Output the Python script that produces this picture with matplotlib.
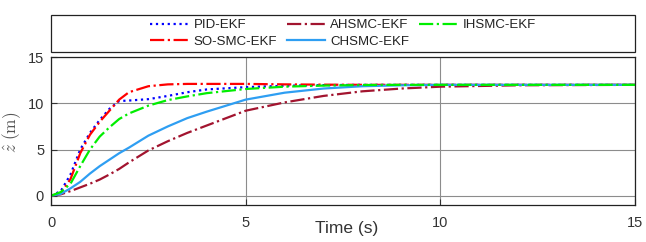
import matplotlib
matplotlib.use('Agg')
import matplotlib.pyplot as plt
from matplotlib.patches import Rectangle

plt.rcParams['font.family'] = ['Liberation Sans', 'DejaVu Sans']
plt.rcParams['mathtext.fontset'] = 'cm'

# tempo (s) e respostas
tempo = [0, 0.25, 0.5, 0.75, 1.0, 1.25, 1.5, 1.75, 2.0, 2.5, 3, 3.5, 4, 5, 6, 7, 8, 9, 10, 12, 15]
pid_ekf = [0, 0.5, 2.3, 5.0, 6.8, 8.2, 9.4, 10.25, 10.3, 10.45, 10.8, 11.2, 11.5, 11.75, 11.9, 11.97, 12, 12, 12, 12, 12]
so_smc_ekf = [0, 0.3, 1.8, 4.6, 6.6, 8.0, 9.2, 10.4, 11.2, 11.85, 12.05, 12.1, 12.1, 12.1, 12.05, 12.02, 12, 12, 12, 12, 12]
ahsmc_ekf = [0, 0.15, 0.5, 0.9, 1.3, 1.75, 2.3, 2.9, 3.6, 4.9, 5.9, 6.8, 7.6, 9.2, 10.1, 10.8, 11.3, 11.6, 11.8, 11.95, 12]
chsmc_ekf = [0, 0.2, 0.8, 1.5, 2.4, 3.2, 3.9, 4.6, 5.2, 6.5, 7.5, 8.4, 9.1, 10.4, 11.15, 11.6, 11.85, 11.95, 12, 12, 12]
ihsmc_ekf = [0, 0.4, 1.3, 3.2, 5.0, 6.4, 7.4, 8.3, 8.9, 9.75, 10.35, 10.75, 11.1, 11.55, 11.8, 11.92, 11.98, 12, 12, 12, 12]

ticks = [0, 5, 10, 15]

fig = plt.figure(figsize=(6.46, 2.42), dpi=100)
ax = fig.add_axes([0.079, 0.153, 0.904, 0.611])

l_pid, = ax.plot(tempo, pid_ekf, ':', color='#0000ff', lw=1.6, label='PID-EKF')
l_so, = ax.plot(tempo, so_smc_ekf, '-.', color='#ff0000', lw=1.6, label='SO-SMC-EKF')
l_ah, = ax.plot(tempo, ahsmc_ekf, '-.', color='#a2142f', lw=1.6, label='AHSMC-EKF')
l_ch, = ax.plot(tempo, chsmc_ekf, '-', color='#2e9ef2', lw=1.6, label='CHSMC-EKF')
l_ih, = ax.plot(tempo, ihsmc_ekf, '-.', color='#00ee00', lw=1.6, label='IHSMC-EKF')

ax.set_xlim(0, 15)
ax.set_ylim(-1, 15)
ax.set_xticks(ticks)
ax.set_yticks(ticks)
ax.grid(True, color='#8c8c8c', lw=0.8)
ax.tick_params(direction='in', labelsize=10.5, colors='#333333', length=4)
ax.tick_params(axis='x', pad=8)
ax.tick_params(axis='y', pad=5)
for s in ax.spines.values():
    s.set_linewidth(0.9)
    s.set_color('#222222')

ax.set_xlabel('Time (s)', fontsize=12.5, color='#333333')
ax.xaxis.label.set_va('center')
ax.xaxis.set_label_coords(0.507, -0.162)
ax.set_ylabel(r'$\hat{z}\ (\mathrm{m})$', fontsize=12.5, color='#555555')
ax.yaxis.label.set_va('center')
ax.yaxis.set_label_coords(-0.067, 0.49)

# caixa da legenda ocupando toda a largura
fig.patches.append(Rectangle((0.079, 0.785), 0.904, 0.153, transform=fig.transFigure,
                             fill=False, edgecolor='#222222', lw=0.9))
fig.legend([l_pid, l_so, l_ah, l_ch, l_ih],
           ['PID-EKF', 'SO-SMC-EKF', 'AHSMC-EKF', 'CHSMC-EKF', 'IHSMC-EKF'],
           ncol=3, loc='center', bbox_to_anchor=(0.531, 0.8615), frameon=False,
           fontsize=9.5, handlelength=2.9, handletextpad=0.4, columnspacing=0.75,
           labelspacing=0.33, borderpad=0, labelcolor='#222222')

fig.savefig('out.png', dpi=100)
